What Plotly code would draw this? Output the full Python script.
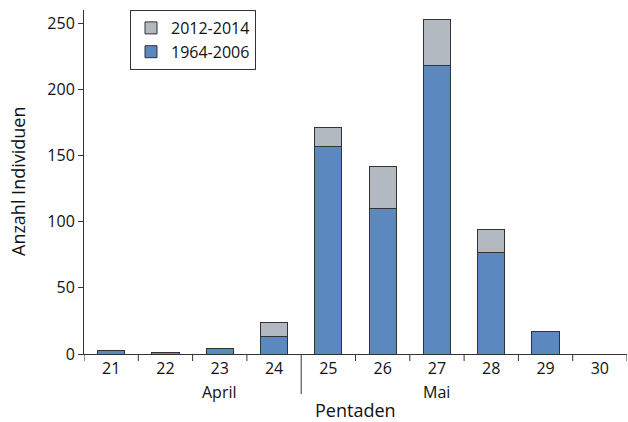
import plotly.graph_objects as go

pentaden = ["21", "22", "23", "24", "25", "26", "27", "28", "29", "30"]
series_1964_2006 = [3, 1, 4, 13, 157, 110, 218, 77, 17, 0]
series_2012_2014 = [0, 0, 0, 11, 14, 32, 35, 17, 0, 0]
months = [("April", "23"), ("Mai", "27")]
month_boundary_after = "24"
y_ticks = [0, 50, 100, 150, 200, 250]

FONT = "Open Sans, Noto Sans, sans-serif"
BLUE = "#5b89bf"
GRAY = "#b2b9c0"
EDGE = "#333333"
TXT = "#111111"

W, H = 628, 422
ML, MR, MT, MB = 84, 1, 10, 68
PLOT_H = H - MT - MB

xs = list(range(len(pentaden)))

fig = go.Figure()
fig.add_trace(go.Bar(
    x=xs, y=series_1964_2006, name="1964-2006", width=0.5,
    marker=dict(color=BLUE, line=dict(color=EDGE, width=1)),
))
fig.add_trace(go.Bar(
    x=xs, y=series_2012_2014, name="2012-2014", width=0.5,
    marker=dict(color=GRAY, line=dict(color=EDGE, width=1)),
))

# tick marks at category boundaries (below the x axis)
shapes = []
for i in range(len(pentaden) + 1):
    b = i - 0.5
    long = (i > 0 and pentaden[i - 1] == month_boundary_after)
    length = 40 if long else 7
    shapes.append(dict(
        type="line", xref="x", yref="paper",
        x0=b, x1=b, y0=0, y1=-length / PLOT_H,
        line=dict(color=EDGE, width=1),
    ))

annotations = []
for name, cat in months:
    annotations.append(dict(
        x=pentaden.index(cat), y=0, xref="x", yref="paper",
        text=name, showarrow=False, yanchor="middle", yshift=-38,
        font=dict(family=FONT, size=16, color=TXT),
    ))
annotations.append(dict(
    x=0.5, y=0, xref="paper", yref="paper", text="Pentaden",
    showarrow=False, yanchor="middle", yshift=-56,
    font=dict(family=FONT, size=18, color=TXT),
))
annotations.append(dict(
    x=0, y=0.5, xref="paper", yref="paper", text="Anzahl Individuen",
    showarrow=False, xanchor="center", xshift=-(ML - 18), textangle=-90,
    font=dict(family=FONT, size=18, color=TXT),
))

fig.update_layout(
    width=W, height=H,
    margin=dict(l=ML, r=MR, t=MT, b=MB, autoexpand=False),
    barmode="stack",
    plot_bgcolor="white", paper_bgcolor="white",
    font=dict(family=FONT, size=16, color=TXT),
    showlegend=True,
    legend=dict(
        x=(130 - ML) / (W - ML - MR), y=1.0, xanchor="left", yanchor="top",
        traceorder="reversed",
        bordercolor=EDGE, borderwidth=1, bgcolor="white",
        font=dict(family=FONT, size=16, color=TXT),
        itemwidth=30, tracegroupgap=0,
    ),
    shapes=shapes,
    annotations=annotations,
)
fig.update_xaxes(
    range=[-0.5, 9.5], automargin=False,
    tickmode="array", tickvals=xs, ticktext=pentaden,
    ticks="", showline=True, linecolor=EDGE, linewidth=1,
    showgrid=False, zeroline=False,
)
fig.update_yaxes(
    range=[0, 260], automargin=False,
    tickmode="array", tickvals=y_ticks,
    ticks="outside", ticklen=5, tickcolor=EDGE,
    showline=True, linecolor=EDGE, linewidth=1,
    showgrid=False, zeroline=False,
)

fig.write_html(
    "out.html",
    config={"displayModeBar": False},
    post_script="document.body.style.margin='0';document.body.style.overflow='hidden';",
)
